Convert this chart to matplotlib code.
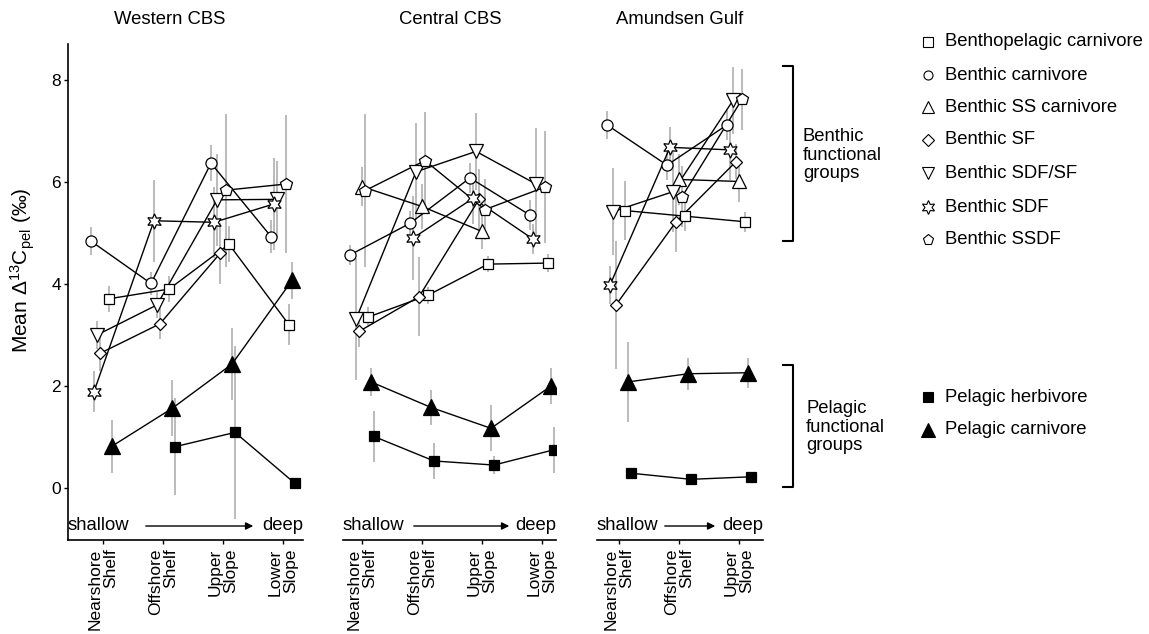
import numpy as np
import matplotlib.pyplot as plt

plt.rcParams['font.family'] = ['Liberation Sans', 'DejaVu Sans']
plt.rcParams['mathtext.fontset'] = 'custom'
plt.rcParams['mathtext.rm'] = 'Liberation Sans'
plt.rcParams['mathtext.it'] = 'Liberation Sans:italic'
plt.rcParams['mathtext.default'] = 'regular'

nan = np.nan

# regions and habitats along the depth gradient
regions = ['Western CBS', 'Central CBS', 'Amundsen Gulf']
habitats = ['Nearshore\nShelf', 'Offshore\nShelf', 'Upper\nSlope', 'Lower\nSlope']
n_habitats = [4, 4, 3]

groups = ['Benthopelagic carnivore', 'Benthic carnivore', 'Benthic SS carnivore',
          'Benthic SF', 'Benthic SDF/SF', 'Benthic SDF', 'Benthic SSDF',
          'Pelagic herbivore', 'Pelagic carnivore']

# mean values (rows follow the groups list)
west_mean = [[3.71, 3.90, 4.78, 3.20],
             [4.84, 4.01, 6.37, 4.93],
             [nan, nan, nan, nan],
             [2.64, 3.22, 4.60, nan],
             [3.00, 3.59, 5.65, 5.66],
             [1.89, 5.24, 5.21, 5.57],
             [nan, nan, 5.84, 5.96],
             [nan, 0.81, 1.09, 0.09],
             [0.82, 1.56, 2.43, 4.07]]
west_err = [[0.25, 0.25, 0.35, 0.40],
            [0.27, 0.23, 0.35, 0.32],
            [nan, nan, nan, nan],
            [0.35, 0.30, 0.60, nan],
            [0.27, 0.25, 0.90, 0.75],
            [0.40, 0.80, 0.70, 0.90],
            [nan, nan, 1.50, 1.35],
            [nan, 0.95, 1.70, 0.05],
            [0.52, 0.55, 0.70, 0.37]]

central_mean = [[3.35, 3.78, 4.39, 4.41],
                [4.57, 5.19, 6.08, 5.35],
                [5.91, 5.52, 5.03, nan],
                [3.07, 3.75, 5.66, nan],
                [3.31, 6.20, 6.60, 5.96],
                [nan, 4.90, 5.68, 4.88],
                [5.83, 6.42, 5.46, 5.90],
                [1.01, 0.53, 0.45, 0.75],
                [2.08, 1.58, 1.17, 2.00]]
central_err = [[0.20, 0.17, 0.15, 0.17],
               [0.20, 0.25, 0.30, 0.30],
               [0.38, 0.45, 0.35, nan],
               [0.30, 0.77, 0.60, nan],
               [1.20, 0.95, 0.75, 1.10],
               [nan, 0.83, 0.50, 0.30],
               [1.50, 0.95, 0.60, 1.10],
               [0.50, 0.35, 0.17, 0.45],
               [0.27, 0.35, 0.45, 0.36]]

amundsen_mean = [[5.44, 5.33, 5.22],
                 [7.12, 6.33, 7.12],
                 [nan, 6.05, 6.01],
                 [3.59, 5.22, 6.40],
                 [5.42, 5.81, 7.60],
                 [3.98, 6.68, 6.63],
                 [nan, 5.71, 7.62],
                 [0.29, 0.17, 0.22],
                 [2.08, 2.24, 2.26]]
amundsen_err = [[0.58, 0.30, 0.20],
                [0.27, 0.30, 0.30],
                [nan, 0.50, 0.40],
                [1.25, 0.60, 0.35],
                [0.85, 0.80, 0.65],
                [0.37, 0.40, 0.60],
                [nan, 0.60, 0.60],
                [0.10, 0.04, 0.04],
                [0.78, 0.31, 0.29]]

all_means = [west_mean, central_mean, amundsen_mean]
all_errs = [west_err, central_err, amundsen_err]

# marker styles per group
markers = ['s', 'o', '^', 'D', 'v', (6, 1, 0), 'p', 's', '^']
msizes = [7.5, 8, 9.5, 6.3, 9.5, 11, 9, 7.5, 11]
filled = [False] * 7 + [True] * 2
dodge_rank = [6, 0, 4, 3, 2, 1, 5, 8, 7]

W, H = 1149, 634
fig = plt.figure(figsize=(W / 100, H / 100), dpi=100)

# pixel layout of the three panels
panel_px = [(68, 303), (343, 556), (597, 763)]
first_tick = [103, 362, 619]
top_px, bottom_px = 44, 540
arrow_px = [(143, 256), (411, 512), (662, 718)]
title_x = [170, 450, 680]

ylo, yhi = (488 - bottom_px) / 51, (488 - top_px) / 51

for i, (l, r) in enumerate(panel_px):
    ax = fig.add_axes([l / W, 1 - bottom_px / H, (r - l) / W, (bottom_px - top_px) / H])
    n = n_habitats[i]
    means = all_means[i]
    errs = all_errs[i]

    for g in range(len(groups)):
        y = np.array(means[g], dtype=float)
        e = np.array(errs[g], dtype=float)
        x = np.arange(1, n + 1) + (dodge_rank[g] - 4) * 0.05
        ok = ~np.isnan(y)
        if not ok.any():
            continue
        ax.vlines(x[ok], (y - e)[ok], (y + e)[ok], color='#a8a8a8', lw=1.1, zorder=1)
        ax.plot(x[ok], y[ok], color='black', lw=1.0, zorder=2)
        ax.plot(x[ok], y[ok], ls='none', marker=markers[g], ms=msizes[g],
                mfc='black' if filled[g] else 'white', mec='black', mew=0.9, zorder=3)

    t0 = first_tick[i]
    ax.set_xlim(1 + (l - t0) / 60, 1 + (r - t0) / 60)
    ax.set_ylim(ylo, yhi)
    ax.set_xticks(np.arange(1, n + 1))
    ax.set_xticklabels(habitats[:n], rotation=90, ha='center', va='top',
                       multialignment='right', fontsize=12.5, linespacing=1.0)
    ax.tick_params(axis='x', length=3, width=1, pad=3)
    ax.patch.set_alpha(0)
    for s in ['top', 'right']:
        ax.spines[s].set_visible(False)
    ax.spines['bottom'].set_linewidth(1.2)
    if i == 0:
        ax.set_yticks([0, 2, 4, 6, 8])
        ax.tick_params(axis='y', length=3, width=1, pad=2, labelsize=12.5)
        ax.spines['left'].set_linewidth(1.2)
        ax.set_ylabel('Mean Δ$^{13}$C$_{pel}$ (‰)', fontsize=15)
        ax.yaxis.set_label_coords((37 - l) / (r - l), (bottom_px - 270) / (bottom_px - top_px))
    else:
        ax.spines['left'].set_visible(False)
        ax.set_yticks([])

    # depth direction note
    yf = (bottom_px - 526) / (bottom_px - top_px)
    ax.text(0.0, yf, 'shallow', transform=ax.transAxes, ha='left', va='center', fontsize=13.3)
    ax.text(1.0, yf, 'deep', transform=ax.transAxes, ha='right', va='center', fontsize=13.3)
    a0, a1 = arrow_px[i]
    ax.annotate('', xy=((a1 - l) / (r - l), yf), xytext=((a0 - l) / (r - l), yf),
                xycoords='axes fraction', textcoords='axes fraction',
                arrowprops=dict(arrowstyle='-|>', color='black', lw=1.0, mutation_scale=11))

    fig.text(title_x[i] / W, 1 - 20 / H, regions[i], ha='center', va='center', fontsize=13.3)

# legend and brackets drawn in pixel space
lg = fig.add_axes([0, 0, 1, 1])
lg.set_xlim(0, W)
lg.set_ylim(H, 0)
lg.axis('off')

legend_y = [42, 75, 107, 140, 173, 207, 240, 397, 430]
legend_ms = [6.5, 6.5, 8.5, 6, 8.5, 10, 8, 7.5, 10]
for g in range(len(groups)):
    lg.plot([928], [legend_y[g]], ls='none', marker=markers[g], ms=legend_ms[g],
            mfc='black' if filled[g] else 'white', mec='black', mew=0.8)
    lg.text(945, legend_y[g], groups[g], ha='left', va='center', fontsize=13.3)

for (t, b) in [(66, 241), (365, 487)]:
    lg.plot([783, 793, 793, 783], [t, t, b, b], color='black', lw=1.5)
lg.text(803, 155, 'Benthic\nfunctional\ngroups', ha='left', va='center', fontsize=13.3, linespacing=1.15)
lg.text(806, 427, 'Pelagic\nfunctional\ngroups', ha='left', va='center', fontsize=13.3, linespacing=1.15)

fig.savefig('out.png', dpi=100)
